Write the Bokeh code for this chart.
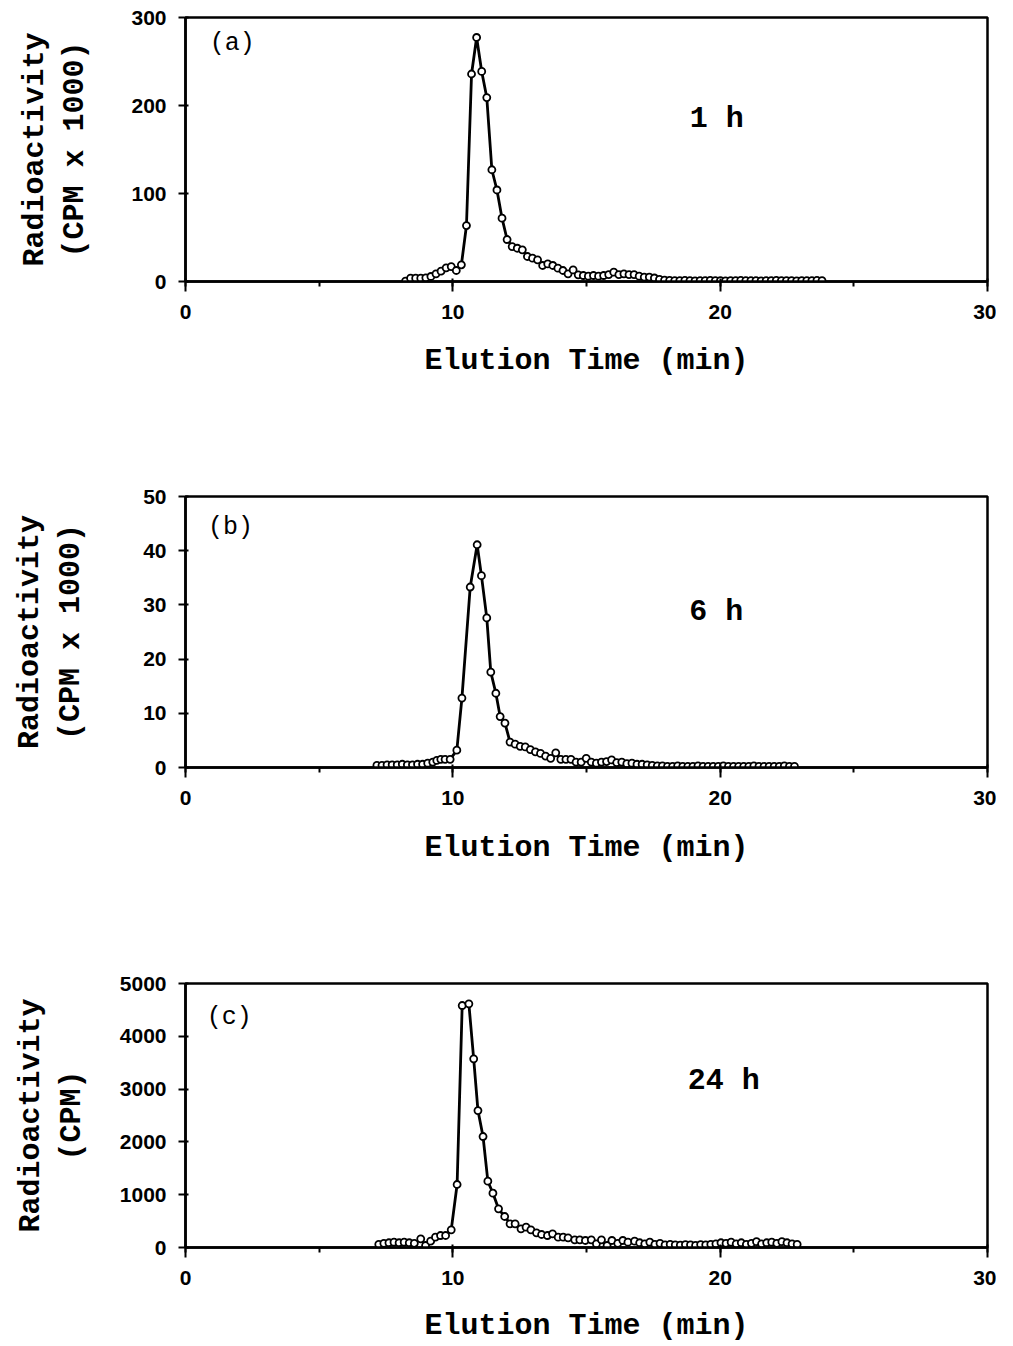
from bokeh.plotting import figure
from bokeh.models import Range1d, SingleIntervalTicker, Label, ColumnDataSource
from bokeh.layouts import column
from bokeh.embed import file_html
from bokeh.resources import INLINE

# ---------------- data ----------------
time_a = [8.23, 8.42, 8.61, 8.80, 8.99, 9.18, 9.37, 9.56, 9.75, 9.94,
          10.13, 10.32, 10.51, 10.70, 10.89, 11.08, 11.27, 11.46, 11.65, 11.84,
          12.03, 12.22, 12.41, 12.60, 12.79, 12.98, 13.17, 13.36, 13.55, 13.74,
          13.93, 14.12, 14.31, 14.50, 14.69, 14.88, 15.07, 15.26, 15.45, 15.64,
          15.83, 16.02, 16.21, 16.40, 16.59, 16.78, 16.97, 17.16, 17.35, 17.54,
          17.73, 17.92, 18.11, 18.30, 18.49, 18.68, 18.87, 19.06, 19.25, 19.44,
          19.63, 19.82, 20.01, 20.20, 20.39, 20.58, 20.77, 20.96, 21.15, 21.34,
          21.53, 21.72, 21.91, 22.10, 22.29, 22.48, 22.67, 22.86, 23.05, 23.24,
          23.43, 23.62, 23.81]
cpm_a = [0.5, 3.8, 3.8, 3.8, 4.2, 5.7, 8.7, 11.7, 15.5, 17.0,
         12.5, 19.0, 63.6, 235.8, 277.3, 238.7, 209.0, 127.0, 104.0, 72.0,
         47.7, 39.7, 37.8, 36.0, 28.4, 26.5, 24.6, 18.2, 20.0, 18.2,
         15.1, 12.5, 8.7, 13.2, 7.6, 6.8, 6.0, 6.8, 6.0, 6.8,
         7.9, 10.6, 7.9, 8.7, 7.9, 7.9, 6.0, 5.0, 5.0, 4.0,
         2.5, 1.5, 1.2, 1.0, 1.0, 1.2, 1.0, 0.8, 1.0, 1.0,
         1.2, 1.0, 1.0, 0.8, 1.0, 1.0, 1.2, 1.0, 1.0, 1.0,
         0.8, 1.0, 1.0, 1.2, 1.0, 1.0, 1.0, 0.8, 1.0, 1.0,
         1.0, 1.2, 1.0]

time_b = [7.16, 7.35, 7.54, 7.73, 7.92, 8.11, 8.30, 8.49, 8.68, 8.87, 9.06, 9.25,
          9.40, 9.55, 9.71, 9.90, 10.15, 10.34, 10.65, 10.91, 11.07, 11.27, 11.42,
          11.61, 11.77, 11.95, 12.14,
          12.33, 12.52, 12.71, 12.90, 13.09, 13.28, 13.47, 13.66, 13.85, 14.04,
          14.23, 14.42, 14.61, 14.80, 14.99, 15.18, 15.37, 15.56, 15.75, 15.94,
          16.13, 16.32, 16.51, 16.70, 16.89, 17.08, 17.27, 17.46,
          17.65, 17.84, 18.03, 18.22, 18.41, 18.60, 18.79, 18.98, 19.17, 19.36,
          19.55, 19.74, 19.93, 20.12, 20.31, 20.50, 20.69, 20.88, 21.07, 21.26,
          21.45, 21.64, 21.83, 22.02, 22.21, 22.40, 22.59, 22.78]
cpm_b = [0.4, 0.4, 0.5, 0.5, 0.5, 0.6, 0.5, 0.5, 0.6, 0.6, 0.8, 1.0,
         1.3, 1.5, 1.5, 1.5, 3.2, 12.8, 33.3, 41.1, 35.4, 27.6, 17.6,
         13.7, 9.4, 8.2, 4.7,
         4.3, 3.9, 3.8, 3.3, 2.9, 2.6, 2.1, 1.7, 2.7, 1.5,
         1.5, 1.5, 1.0, 1.0, 1.7, 1.0, 0.8, 1.0, 1.1, 1.4,
         0.9, 1.0, 0.7, 0.8, 0.6, 0.6, 0.5, 0.4,
         0.3, 0.3, 0.2, 0.2, 0.3, 0.2, 0.2, 0.2, 0.3, 0.2,
         0.2, 0.2, 0.2, 0.3, 0.2, 0.2, 0.2, 0.2, 0.2, 0.3,
         0.2, 0.2, 0.2, 0.2, 0.2, 0.3, 0.2, 0.2]

time_c = [7.23, 7.42, 7.61, 7.80, 7.99, 8.18, 8.37, 8.56,
          8.80, 8.98, 9.17, 9.35, 9.54, 9.73, 9.94, 10.16, 10.35, 10.60,
          10.78, 10.94, 11.13, 11.31, 11.50, 11.71, 11.94, 12.14, 12.33, 12.55,
          12.74, 12.92, 13.13, 13.32, 13.54, 13.73, 13.94, 14.13, 14.31, 14.56,
          14.75, 14.96, 15.18, 15.37, 15.56, 15.77, 15.95, 16.17, 16.36, 16.55,
          16.80, 16.99, 17.18, 17.37, 17.56, 17.75, 17.94, 18.13, 18.32, 18.51,
          18.70, 18.89, 19.08, 19.27, 19.46, 19.65, 19.84, 20.03, 20.22, 20.41,
          20.60, 20.79, 20.98, 21.17, 21.36, 21.55, 21.74, 21.93, 22.12, 22.31,
          22.50, 22.69, 22.88]
cpm_c = [60, 80, 90, 100, 90, 100, 90, 80,
         165, 38, 120, 195, 227, 227, 335, 1193, 4583, 4615,
         3573, 2594, 2102, 1256, 1028, 733, 587, 449, 449, 354,
         385, 335, 278, 246, 227, 259, 195, 195, 183, 145,
         145, 133, 145, 70, 145, 38, 133, 80, 133, 100,
         120, 90, 70, 100, 60, 80, 50, 60, 50, 45,
         55, 50, 40, 55, 50, 60, 70, 90, 80, 100,
         70, 90, 60, 80, 110, 70, 90, 100, 80, 110,
         90, 70, 60]

x_ticks_interval = 10
y_max = [300, 50, 5000]
y_interval = [100, 10, 1000]
y_labels = ["Radioactivity\n(CPM x 1000)", "Radioactivity\n(CPM x 1000)", "Radioactivity\n(CPM)"]
panel_tags = ["(a)", "(b)", "(c)"]
time_tags = ["1 h", "6 h", "24 h"]
x_label = "Elution Time (min)"

assert len(time_a) == len(cpm_a)
assert len(time_b) == len(cpm_b)
assert len(time_c) == len(cpm_c)

MONO = "Liberation Mono"
SANS = "Liberation Sans"


def make_panel(t, v, ymax, yint, ylab, tag, ttag, tag_pos, ttag_pos,
               height, bl, fw, bt, fh, ystand, xstand):
    width = 996
    p = figure(width=width, height=height, output_backend="svg", toolbar_location=None,
               x_range=Range1d(0, 30), y_range=Range1d(0, ymax),
               min_border_left=bl, min_border_right=width - bl - fw, min_border_top=bt,
               min_border_bottom=height - bt - fh, background_fill_color="white",
               border_fill_color="white")
    p.grid.visible = False
    p.outline_line_color = "black"
    p.outline_line_width = 2.5
    p.outline_line_alpha = 1

    xa = p.xaxis[0]
    xa.ticker = SingleIntervalTicker(interval=x_ticks_interval, num_minor_ticks=2)
    ya = p.yaxis[0]
    ya.ticker = SingleIntervalTicker(interval=yint, num_minor_ticks=0)
    for ax in (xa, ya):
        ax.axis_line_width = 2.5
        ax.axis_line_color = "black"
        ax.major_tick_line_width = 2
        ax.major_tick_line_color = "black"
        ax.minor_tick_line_width = 2
        ax.minor_tick_line_color = "black"
        ax.major_label_text_font = SANS
        ax.major_label_text_font_style = "bold"
        ax.major_label_text_font_size = "21px"
        ax.major_label_text_color = "black"
        ax.axis_label_text_font = MONO
        ax.axis_label_text_font_style = "bold"
        ax.axis_label_text_font_size = "30px"
        ax.axis_label_text_color = "black"
    xa.axis_label_text_line_height = 1.0
    xa.major_label_standoff = 13
    ya.major_label_standoff = 12
    xa.major_tick_out = 10
    xa.major_tick_in = 3
    xa.minor_tick_out = 5
    xa.minor_tick_in = 0
    ya.major_tick_out = 7
    ya.major_tick_in = 3
    ya.minor_tick_line_color = None
    xa.axis_label = x_label
    ya.axis_label = ylab
    xa.axis_label_standoff = xstand
    ya.axis_label_standoff = ystand

    src = ColumnDataSource(dict(t=t, v=v))
    p.line("t", "v", source=src, line_color="black", line_width=2.8)
    p.scatter("t", "v", source=src, marker="circle", size=7, fill_color="white",
              line_color="black", line_width=1.8)

    p.add_layout(Label(x=tag_pos[0], y=tag_pos[1], text=tag, text_font=MONO,
                       text_font_size="25px", text_align="center",
                       text_baseline="middle", text_color="black"))
    p.add_layout(Label(x=ttag_pos[0], y=ttag_pos[1], text=ttag, text_font=MONO,
                       text_font_size="30px", text_font_style="bold", text_align="center",
                       text_baseline="middle", text_color="black"))
    return p


# frame boxes (page pixels): (a) 185..993 x 17..281, (b) 183..987 x 496..767, (c) 182..988 x 983..1247
pa = make_panel(time_a, cpm_a, y_max[0], y_interval[0], y_labels[0], panel_tags[0], time_tags[0],
                (1.75, 271), (19.87, 185), 486, 185, 808, 17, 264, 36, 22)
pb = make_panel(time_b, cpm_b, y_max[1], y_interval[1], y_labels[1], panel_tags[1], time_tags[1],
                (1.68, 44.3), (19.85, 28.7), 487, 183, 804, 10, 271, 52, 23)
pc = make_panel(time_c, cpm_c, y_max[2], y_interval[2], y_labels[2], panel_tags[2], time_tags[2],
                (1.64, 4356), (20.13, 3144), 372, 182, 806, 10, 264, 28, 21)

layout = column(pa, pb, pc)
open("out.html", "w").write(file_html(layout, INLINE))
